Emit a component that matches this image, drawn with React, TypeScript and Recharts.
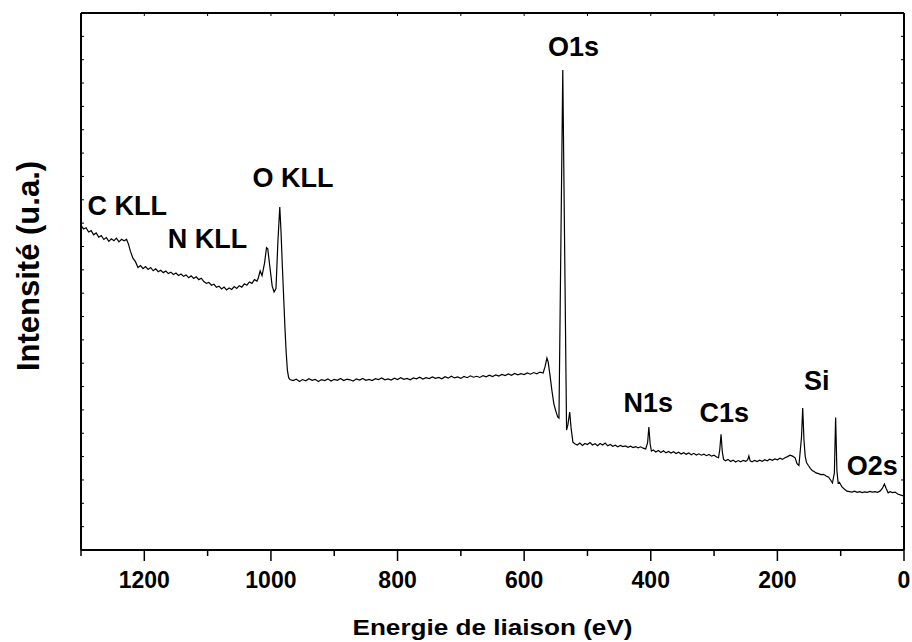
import { LineChart, Line, XAxis, YAxis, ReferenceDot, Label } from 'recharts';

const FONT = '"Liberation Sans", Arial, Helvetica, sans-serif';

// binding energy (eV), intensity (u.a.), high energy first
const augerRegion: [number, number][] = [
  [1300, 13.9], [1296, 13.75], [1292, 13.8], [1288, 13.62], [1284, 13.68], [1280, 13.5],
  [1276, 13.58], [1272, 13.4], [1268, 13.47], [1264, 13.3], [1260, 13.38], [1256, 13.22],
  [1252, 13.33], [1248, 13.25], [1244, 13.36], [1240, 13.2], [1236, 13.31], [1232, 13.24],
  [1228, 13.3], [1225, 13.1], [1222, 12.8], [1218, 12.5], [1214, 12.35], [1210, 12.1],
  [1206, 12.18], [1202, 12.05], [1198, 12.14], [1194, 12.02], [1190, 12.1], [1186, 11.96],
  [1182, 12.04], [1178, 11.92], [1174, 11.98], [1170, 11.88], [1166, 11.95], [1162, 11.84],
  [1158, 11.9], [1154, 11.8], [1150, 11.86], [1146, 11.76], [1142, 11.82], [1138, 11.72],
  [1134, 11.78], [1130, 11.66], [1126, 11.74], [1122, 11.63], [1118, 11.7], [1114, 11.58],
  [1110, 11.64], [1106, 11.5], [1102, 11.42], [1098, 11.46], [1094, 11.34], [1090, 11.38],
  [1086, 11.25], [1082, 11.3], [1078, 11.18], [1074, 11.26], [1070, 11.14], [1066, 11.22],
  [1062, 11.16], [1058, 11.28], [1054, 11.2], [1050, 11.32], [1046, 11.26], [1042, 11.4],
  [1038, 11.34], [1034, 11.48], [1030, 11.42], [1026, 11.58], [1022, 11.52], [1020, 11.65],
  [1017, 11.95], [1014, 11.75], [1010, 12.3], [1007, 12.95], [1005, 12.9], [1002, 12.2],
  [998, 11.3], [995, 11.05], [992, 11.2], [989, 13.2], [986, 14.69], [984, 13.6],
  [982, 12.2], [980, 10.9], [978, 9.6], [976, 8.5], [974, 7.7], [972, 7.38], [970, 7.3],
];

const plateau: [number, number][] = [
  [965, 7.26], [960, 7.32], [955, 7.22], [950, 7.3], [945, 7.25], [940, 7.34], [935, 7.27],
  [930, 7.31], [925, 7.22], [920, 7.3], [915, 7.26], [910, 7.33], [905, 7.24], [900, 7.31],
  [895, 7.27], [890, 7.35], [885, 7.26], [880, 7.32], [875, 7.29], [870, 7.24], [865, 7.33],
  [860, 7.28], [855, 7.35], [850, 7.27], [845, 7.31], [840, 7.26], [835, 7.34], [830, 7.3],
  [825, 7.37], [820, 7.29], [815, 7.33], [810, 7.28], [805, 7.36], [800, 7.3], [795, 7.38],
  [790, 7.31], [785, 7.35], [780, 7.29], [775, 7.37], [770, 7.33], [765, 7.4], [760, 7.32],
  [755, 7.38], [750, 7.34], [745, 7.41], [740, 7.35], [735, 7.39], [730, 7.33], [725, 7.42],
  [720, 7.36], [715, 7.44], [710, 7.37], [705, 7.41], [700, 7.35], [695, 7.43], [690, 7.38],
  [685, 7.46], [680, 7.4], [675, 7.44], [670, 7.39], [665, 7.47], [660, 7.42], [655, 7.49],
  [650, 7.43], [645, 7.5], [640, 7.45], [635, 7.52], [630, 7.47], [625, 7.54], [620, 7.48],
  [615, 7.56], [610, 7.5], [605, 7.55], [600, 7.51], [595, 7.58], [590, 7.53], [585, 7.6],
  [580, 7.55], [575, 7.62], [570, 7.58],
];

const o1sRegion: [number, number][] = [
  [567, 7.85], [564, 8.22], [562, 8.05], [559, 7.45], [556, 6.8], [553, 6.25], [550, 5.95],
  [547, 5.7], [545, 5.65], [539, 20.56], [533, 5.14], [531, 5.35], [528, 5.91], [526, 5.25],
  [523, 4.62], [520, 4.55],
];

const lowRegion: [number, number][] = [
  [516, 4.5], [512, 4.58], [508, 4.48], [504, 4.56], [500, 4.52], [496, 4.6], [492, 4.5],
  [488, 4.55], [484, 4.47], [480, 4.56], [476, 4.5], [472, 4.58], [468, 4.46], [464, 4.52],
  [460, 4.44], [456, 4.49], [452, 4.42], [448, 4.48], [444, 4.43], [440, 4.46], [436, 4.4],
  [432, 4.45], [428, 4.39], [424, 4.43], [420, 4.38], [416, 4.42], [412, 4.36], [408, 4.33],
  [405, 4.6], [403, 5.27], [401, 4.55], [399, 4.24], [396, 4.28], [392, 4.2], [388, 4.26],
  [384, 4.18], [380, 4.25], [376, 4.16], [372, 4.22], [368, 4.15], [364, 4.21], [360, 4.13],
  [356, 4.19], [352, 4.11], [348, 4.17], [344, 4.1], [340, 4.16], [336, 4.08], [332, 4.14],
  [328, 4.07], [324, 4.12], [320, 4.06], [316, 4.1], [312, 4.04], [308, 4.09], [304, 4.02],
  [300, 4.06], [296, 3.98], [293, 3.95], [291, 4.3], [289, 4.96], [287, 4.2], [285, 3.88],
  [282, 3.82], [278, 3.88], [274, 3.79], [270, 3.85], [266, 3.77], [262, 3.83], [258, 3.78],
  [254, 3.84], [250, 3.8], [247, 3.86], [245, 4.03], [243, 3.82], [240, 3.78], [236, 3.84],
  [232, 3.79], [228, 3.85], [224, 3.8], [220, 3.87], [216, 3.82], [212, 3.89], [208, 3.84],
  [204, 3.9], [200, 3.86], [196, 3.93], [192, 3.88], [188, 3.95], [184, 4.0], [180, 4.06],
  [176, 4.02], [172, 3.95], [169, 3.7], [166, 3.62], [162, 4.8], [160, 6.08], [158, 4.7],
  [156, 4.0], [154, 3.75], [151, 3.62], [148, 3.5], [145, 3.4], [142, 3.36], [139, 3.3],
  [135, 3.27], [131, 3.23], [127, 3.24], [123, 3.17], [119, 3.12], [116, 3.0], [113, 2.87],
  [110, 3.3], [108, 5.67], [106, 3.4], [104, 2.87], [102, 2.9], [98, 2.7], [94, 2.6],
  [90, 2.52], [86, 2.5], [82, 2.48], [78, 2.52], [74, 2.47], [70, 2.5], [66, 2.46],
  [62, 2.49], [58, 2.47], [54, 2.51], [50, 2.48], [46, 2.5], [42, 2.47], [38, 2.52],
  [34, 2.65], [31, 2.83], [28, 2.62], [25, 2.45], [22, 2.5], [18, 2.46], [14, 2.48],
  [10, 2.4], [6, 2.36], [2, 2.33], [0, 2.31],
];

const spectrum = [...augerRegion, ...plateau, ...o1sRegion, ...lowRegion];
const data = spectrum.map(([ev, counts]) => ({ ev, counts }));

const xTicks = [0, 100, 200, 300, 400, 500, 600, 700, 800, 900, 1000, 1100, 1200, 1300];
const labelledTicks = [0, 200, 400, 600, 800, 1000, 1200];
const yTicks = [0, 1, 2, 3, 4, 5, 6, 7, 8, 9, 10, 11, 12, 13, 14, 15, 16, 17, 18, 19, 20, 21, 22, 23];

// peak names, placed at (eV, intensity) of the text centre / baseline
const peakLabels = [
  { text: 'C KLL', ev: 1227, y: 14.35 },
  { text: 'N KLL', ev: 1100, y: 12.93 },
  { text: 'O KLL', ev: 965, y: 15.55 },
  { text: 'O1s', ev: 522, y: 21.16 },
  { text: 'N1s', ev: 404, y: 5.91 },
  { text: 'C1s', ev: 284, y: 5.48 },
  { text: 'Si', ev: 138, y: 6.85 },
  { text: 'O2s', ev: 50, y: 3.21 },
];

const noLabel = () => '';

// bottom ticks: long with a number every 200 eV, short in between
const BottomTick = (props: any) => {
  const { x, y, payload } = props;
  const major = labelledTicks.includes(payload.value);
  return (
    <g>
      <line x1={x} x2={x} y1={y} y2={y + (major ? 11 : 6)} stroke="#000" strokeWidth={1.5} />
      {major && (
        <text
          x={x}
          y={y + 38}
          textAnchor="middle"
          style={{ fontFamily: FONT, fontSize: 23, fontWeight: 'bold', fill: '#000' }}
        >
          {payload.value}
        </text>
      )}
    </g>
  );
};

export default function App() {
  return (
    <div style={{ position: 'absolute', left: 0, top: 0, width: 912, height: 642, background: '#fff' }}>
      <LineChart width={912} height={642} data={data} margin={{ top: 13, right: 8, bottom: 0, left: 81 }}>
        <XAxis
          xAxisId="bottom"
          dataKey="ev"
          type="number"
          domain={[0, 1300]}
          reversed
          allowDataOverflow
          ticks={xTicks}
          interval={0}
          tickSize={0}
          tickMargin={0}
          height={92}
          axisLine={{ stroke: '#000', strokeWidth: 2 }}
          tickLine={false}
          tick={<BottomTick />}
        >
          <Label
            content={(props: any) => {
              const vb = props.viewBox;
              return (
                <text
                  x={vb.x + vb.width / 2}
                  y={vb.y + 85}
                  textAnchor="middle"
                  textLength={280}
                  lengthAdjust="spacingAndGlyphs"
                  style={{ fontFamily: FONT, fontSize: 22, fontWeight: 'bold', fill: '#000' }}
                >
                  Energie de liaison (eV)
                </text>
              );
            }}
          />
        </XAxis>
        <XAxis
          xAxisId="top"
          orientation="top"
          dataKey="ev"
          type="number"
          domain={[0, 1300]}
          reversed
          allowDataOverflow
          mirror
          ticks={xTicks}
          interval={0}
          tickSize={3}
          height={1}
          axisLine={{ stroke: '#000', strokeWidth: 2 }}
          tickLine={{ stroke: '#000', strokeWidth: 1 }}
          tickFormatter={noLabel}
        />
        <YAxis
          yAxisId="left"
          type="number"
          domain={[0, 23]}
          allowDataOverflow
          mirror
          ticks={yTicks}
          interval={0}
          tickSize={3}
          width={1}
          axisLine={{ stroke: '#000', strokeWidth: 2 }}
          tickLine={{ stroke: '#000', strokeWidth: 1 }}
          tickFormatter={noLabel}
        >
          <Label
            content={(props: any) => {
              const vb = props.viewBox;
              const x = vb.x - 42;
              const y = 266;
              return (
                <text
                  x={x}
                  y={y}
                  transform={`rotate(-90, ${x}, ${y})`}
                  textAnchor="middle"
                  style={{ fontFamily: FONT, fontSize: 31, fontWeight: 'bold', fill: '#000' }}
                >
                  Intensité (u.a.)
                </text>
              );
            }}
          />
        </YAxis>
        <YAxis
          yAxisId="right"
          orientation="right"
          type="number"
          domain={[0, 23]}
          allowDataOverflow
          mirror
          ticks={yTicks}
          interval={0}
          tickSize={3}
          width={1}
          axisLine={{ stroke: '#000', strokeWidth: 2 }}
          tickLine={{ stroke: '#000', strokeWidth: 1 }}
          tickFormatter={noLabel}
        />
        <Line
          xAxisId="bottom"
          yAxisId="left"
          dataKey="counts"
          type="linear"
          stroke="#000"
          strokeWidth={1.2}
          dot={false}
          activeDot={false}
          isAnimationActive={false}
        />
        {peakLabels.map((p) => (
          <ReferenceDot
            key={p.text}
            xAxisId="bottom"
            yAxisId="left"
            x={p.ev}
            y={p.y}
            r={0}
            fill="none"
            stroke="none"
            label={(props: any) => {
              const vb = props.viewBox;
              return (
                <text
                  x={vb.x + (vb.width || 0) / 2}
                  y={vb.y + (vb.height || 0) / 2}
                  textAnchor="middle"
                  style={{ fontFamily: FONT, fontSize: 27, fontWeight: 'bold', fill: '#000' }}
                >
                  {p.text}
                </text>
              );
            }}
          />
        ))}
      </LineChart>
    </div>
  );
}
